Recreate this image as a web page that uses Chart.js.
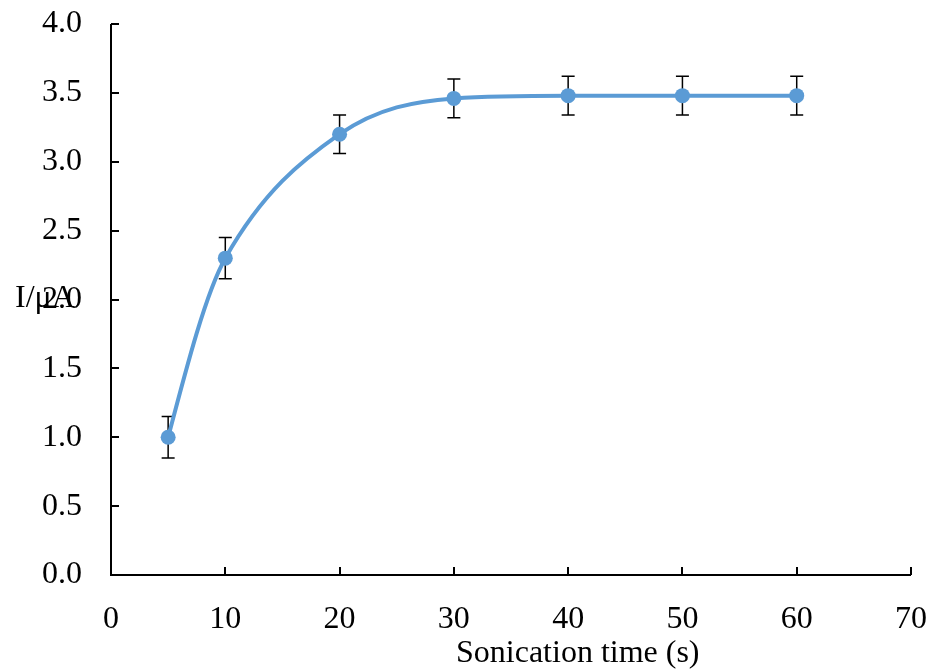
<!DOCTYPE html>
<html>
<head>
<meta charset="utf-8">
<script src="https://cdn.jsdelivr.net/npm/chart.js@4/dist/chart.umd.min.js"></script>
<style>
  html, body { margin: 0; padding: 0; background: #fff; }
  #wrap { width: 934px; height: 669px; position: relative; }
</style>
</head>
<body>
<div id="wrap"><canvas id="chart"></canvas></div>
<script>
// data
const sonicationTime = [5, 10, 20, 30, 40, 50, 60]
const current = [1.0, 2.30, 3.20, 3.46, 3.48, 3.48, 3.48]
const currentErr = [0.15, 0.15, 0.14, 0.14, 0.14, 0.14, 0.14]
const xTicks = [0, 10, 20, 30, 40, 50, 60, 70]
const yTicks = [0, 0.5, 1.0, 1.5, 2.0, 2.5, 3.0, 3.5, 4.0]

const FONT = '"Liberation Serif", "Times New Roman", serif'
const BLUE = '#5B9BD5'

// error bars + smoothed line, drawn under the markers
const errorBarsAndCurve = {
  id: 'errorBarsAndCurve',
  beforeDatasetsDraw(chart) {
    const { ctx, scales: { x, y } } = chart
    ctx.save()
    ctx.strokeStyle = '#000'
    ctx.lineWidth = 1.5
    sonicationTime.forEach((t, i) => {
      const px = x.getPixelForValue(t)
      const top = y.getPixelForValue(current[i] + currentErr[i])
      const bot = y.getPixelForValue(current[i] - currentErr[i])
      ctx.beginPath()
      ctx.moveTo(px, top); ctx.lineTo(px, bot)
      ctx.moveTo(px - 6.5, top); ctx.lineTo(px + 6.5, top)
      ctx.moveTo(px - 6.5, bot); ctx.lineTo(px + 6.5, bot)
      ctx.stroke()
    })

    // cubic Hermite: central-difference tangents, parabolic ends, no overshoot
    const px = sonicationTime.map(t => x.getPixelForValue(t))
    const py = current.map(v => y.getPixelForValue(v))
    const n = px.length
    const h = [], s = []
    for (let i = 0; i < n - 1; i++) { h.push(px[i + 1] - px[i]); s.push((py[i + 1] - py[i]) / h[i]) }
    const m = new Array(n)
    for (let i = 1; i < n - 1; i++) m[i] = (py[i + 1] - py[i - 1]) / (px[i + 1] - px[i - 1])
    m[0] = ((2 * h[0] + h[1]) * s[0] - h[0] * s[1]) / (h[0] + h[1])
    m[n - 1] = ((2 * h[n - 2] + h[n - 3]) * s[n - 2] - h[n - 2] * s[n - 3]) / (h[n - 2] + h[n - 3])
    const limit = (mi, sa) => (Math.sign(mi) !== Math.sign(sa) || sa === 0) ? 0 : Math.sign(mi) * Math.min(Math.abs(mi), 3 * Math.abs(sa))
    for (let i = 0; i < n; i++) {
      if (i > 0) m[i] = limit(m[i], s[i - 1])
      if (i < n - 1) m[i] = limit(m[i], s[i])
    }

    ctx.strokeStyle = BLUE
    ctx.lineWidth = 4
    ctx.lineCap = 'round'
    ctx.beginPath()
    ctx.moveTo(px[0], py[0])
    for (let i = 0; i < n - 1; i++) {
      const d = h[i] / 3
      ctx.bezierCurveTo(px[i] + d, py[i] + m[i] * d, px[i + 1] - d, py[i + 1] - m[i + 1] * d, px[i + 1], py[i + 1])
    }
    ctx.stroke()
    ctx.restore()
  }
}

// axis lines with inward ticks, plus axis titles
const axesDeco = {
  id: 'axesDeco',
  afterDraw(chart) {
    const { ctx, chartArea: a, scales: { x, y } } = chart
    ctx.save()
    ctx.strokeStyle = '#000'
    ctx.lineWidth = 2
    ctx.beginPath()
    ctx.moveTo(a.left, a.top); ctx.lineTo(a.left, a.bottom); ctx.lineTo(a.right, a.bottom)
    yTicks.forEach(v => {
      const ty = Math.round(y.getPixelForValue(v))
      ctx.moveTo(a.left, ty); ctx.lineTo(a.left + 8, ty)
    })
    xTicks.forEach(v => {
      const tx = Math.round(x.getPixelForValue(v))
      ctx.moveTo(tx, a.bottom); ctx.lineTo(tx, a.bottom - 8)
    })
    ctx.stroke()

    ctx.fillStyle = '#000'
    ctx.font = '32px ' + FONT
    ctx.textBaseline = 'alphabetic'
    ctx.textAlign = 'left'
    ctx.fillText('I/μA', 15, 307)
    ctx.fillText('Sonication time (s)', 456, 662)
    ctx.restore()
  }
}

new Chart(document.getElementById('chart'), {
  type: 'line',
  data: {
    datasets: [{
      data: sonicationTime.map((t, i) => ({ x: t, y: current[i] })),
      showLine: false,
      borderColor: BLUE,
      backgroundColor: BLUE,
      pointRadius: 7.5,
      pointHoverRadius: 7.5,
      pointBorderWidth: 0
    }]
  },
  options: {
    responsive: true,
    maintainAspectRatio: false,
    animation: false,
    layout: { padding: { top: 24, right: 23, left: 0, bottom: 0 } },
    plugins: { legend: { display: false }, tooltip: { enabled: false } },
    scales: {
      x: {
        type: 'linear',
        min: 0, max: 70,
        afterBuildTicks: s => { s.ticks = xTicks.map(v => ({ value: v })) },
        afterFit: s => { s.height = 94; s.paddingLeft = 0; s.paddingRight = 0 },
        grid: { display: false, drawTicks: false },
        border: { display: false },
        ticks: { color: '#000', padding: 25, font: { family: FONT, size: 32 } }
      },
      y: {
        min: 0, max: 4,
        afterBuildTicks: s => { s.ticks = yTicks.map(v => ({ value: v })) },
        afterFit: s => { s.width = 111; s.paddingTop = 0; s.paddingBottom = 0 },
        grid: { display: false, drawTicks: false },
        border: { display: false },
        ticks: {
          color: '#000', padding: 29,
          font: { family: FONT, size: 32 },
          callback: v => v.toFixed(1)
        }
      }
    }
  },
  plugins: [errorBarsAndCurve, axesDeco]
})
</script>
</body>
</html>
